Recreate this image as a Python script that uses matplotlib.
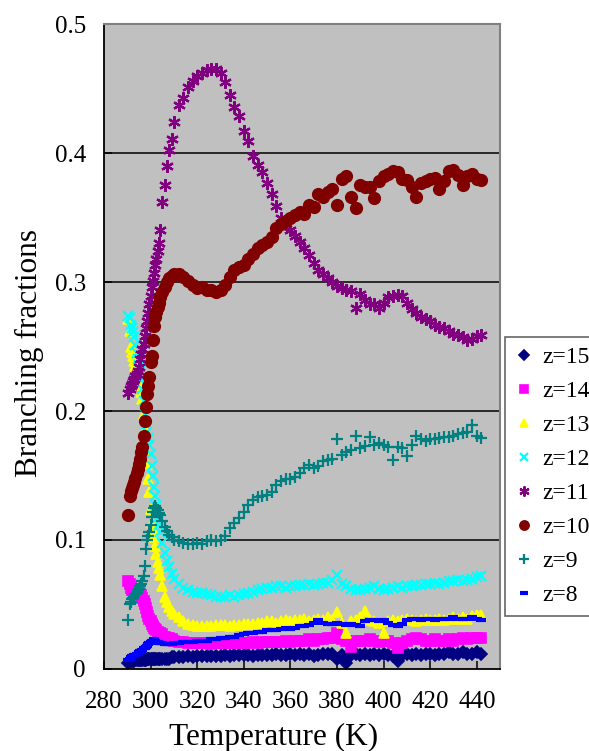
import matplotlib
matplotlib.use('Agg')
import matplotlib.pyplot as plt

# temperatures (K), shared by every series
temps = [290.5, 291.0, 291.5, 292.0, 292.5, 293.0, 293.5, 294.0, 294.5, 295.0,
         295.5, 296.0, 296.5, 297.0, 297.5, 298.0, 298.5, 299.0, 299.5, 300.0,
         300.5, 301.0, 301.5, 302.0, 302.5, 303.0, 303.5, 304.0, 305, 306,
         307, 308, 309, 310, 312, 314, 316, 318, 320, 322,
         324, 326, 328, 330, 332, 334, 336, 338, 340, 342,
         344, 346, 348, 350, 352, 354, 356, 358, 360, 362,
         364, 366, 368, 370, 372, 374, 376, 378, 380, 382,
         384, 386, 388, 390, 392, 394, 396, 398, 400, 402,
         404, 406, 408, 410, 412, 414, 416, 418, 420, 422,
         424, 426, 428, 430, 432, 434, 436, 438, 440, 442]

z15 = [0.005, 0.006, 0.006, 0.006, 0.006, 0.006, 0.007, 0.007, 0.007, 0.007,
       0.007, 0.007, 0.007, 0.007, 0.007, 0.007, 0.008, 0.008, 0.008, 0.008,
       0.008, 0.008, 0.008, 0.008, 0.008, 0.008, 0.008, 0.008, 0.008, 0.008,
       0.008, 0.008, 0.009, 0.009, 0.009, 0.009, 0.010, 0.009, 0.010, 0.010,
       0.010, 0.010, 0.010, 0.010, 0.011, 0.010, 0.011, 0.011, 0.011, 0.011,
       0.010, 0.011, 0.011, 0.011, 0.011, 0.012, 0.011, 0.011, 0.012, 0.011,
       0.012, 0.011, 0.012, 0.010, 0.011, 0.012, 0.012, 0.012, 0.008, 0.011,
       0.005, 0.011, 0.012, 0.011, 0.012, 0.011, 0.012, 0.011, 0.012, 0.011,
       0.010, 0.006, 0.011, 0.012, 0.011, 0.012, 0.011, 0.012, 0.012, 0.011,
       0.012, 0.012, 0.013, 0.012, 0.012, 0.013, 0.012, 0.012, 0.013, 0.012]

z14 = [0.068, 0.066, 0.063, 0.061, 0.061, 0.060, 0.060, 0.060, 0.059, 0.059,
       0.058, 0.057, 0.055, 0.053, 0.050, 0.047, 0.044, 0.041, 0.039, 0.037,
       0.035, 0.033, 0.032, 0.031, 0.030, 0.029, 0.028, 0.028, 0.027, 0.025,
       0.024, 0.024, 0.023, 0.022, 0.021, 0.021, 0.020, 0.020, 0.020, 0.020,
       0.020, 0.019, 0.020, 0.020, 0.020, 0.020, 0.020, 0.020, 0.020, 0.020,
       0.021, 0.020, 0.021, 0.021, 0.021, 0.021, 0.021, 0.022, 0.021, 0.022,
       0.022, 0.022, 0.023, 0.022, 0.023, 0.023, 0.024, 0.024, 0.028, 0.023,
       0.022, 0.017, 0.022, 0.022, 0.022, 0.023, 0.022, 0.021, 0.022, 0.022,
       0.020, 0.016, 0.020, 0.022, 0.023, 0.024, 0.023, 0.022, 0.022, 0.023,
       0.022, 0.022, 0.023, 0.022, 0.023, 0.024, 0.023, 0.024, 0.024, 0.024]

z13 = [0.271, 0.262, 0.250, 0.246, 0.243, 0.239, 0.235, 0.231, 0.227, 0.223,
       0.220, 0.215, 0.209, 0.198, 0.186, 0.170, 0.159, 0.147, 0.137, 0.124,
       0.113, 0.108, 0.102, 0.095, 0.089, 0.083, 0.078, 0.073, 0.064, 0.056,
       0.052, 0.048, 0.045, 0.043, 0.040, 0.037, 0.035, 0.034, 0.033, 0.033,
       0.033, 0.033, 0.034, 0.034, 0.034, 0.033, 0.034, 0.034, 0.035, 0.035,
       0.035, 0.036, 0.036, 0.037, 0.037, 0.036, 0.037, 0.038, 0.037, 0.038,
       0.038, 0.039, 0.037, 0.038, 0.039, 0.038, 0.040, 0.038, 0.044, 0.036,
       0.028, 0.037, 0.038, 0.040, 0.045, 0.038, 0.037, 0.036, 0.028, 0.037,
       0.038, 0.037, 0.038, 0.039, 0.038, 0.037, 0.038, 0.039, 0.038, 0.038,
       0.039, 0.038, 0.039, 0.040, 0.039, 0.040, 0.039, 0.041, 0.042, 0.042]

z12 = [0.274, 0.272, 0.267, 0.264, 0.261, 0.257, 0.251, 0.245, 0.240, 0.236,
       0.231, 0.224, 0.217, 0.208, 0.198, 0.190, 0.184, 0.179, 0.174, 0.167,
       0.157, 0.150, 0.141, 0.134, 0.126, 0.118, 0.112, 0.106, 0.098, 0.090,
       0.084, 0.079, 0.074, 0.070, 0.066, 0.063, 0.061, 0.060, 0.059, 0.059,
       0.058, 0.057, 0.056, 0.056, 0.056, 0.057, 0.056, 0.057, 0.058, 0.059,
       0.060, 0.061, 0.062, 0.063, 0.063, 0.064, 0.064, 0.063, 0.064, 0.064,
       0.065, 0.065, 0.066, 0.065, 0.066, 0.067, 0.067, 0.069, 0.073, 0.066,
       0.064, 0.062, 0.061, 0.061, 0.062, 0.063, 0.064, 0.062, 0.061, 0.062,
       0.063, 0.064, 0.063, 0.064, 0.064, 0.065, 0.065, 0.066, 0.066, 0.067,
       0.066, 0.067, 0.068, 0.068, 0.069, 0.068, 0.069, 0.070, 0.071, 0.072]

z11 = [0.214, 0.217, 0.219, 0.221, 0.223, 0.225, 0.227, 0.229, 0.231, 0.234,
       0.240, 0.244, 0.248, 0.252, 0.258, 0.264, 0.270, 0.276, 0.283, 0.289,
       0.296, 0.301, 0.307, 0.313, 0.318, 0.324, 0.330, 0.340, 0.362, 0.375,
       0.390, 0.402, 0.411, 0.424, 0.437, 0.443, 0.451, 0.456, 0.460, 0.462,
       0.464, 0.465, 0.465, 0.462, 0.455, 0.445, 0.436, 0.429, 0.417, 0.409,
       0.398, 0.391, 0.385, 0.377, 0.368, 0.359, 0.350, 0.345, 0.340, 0.336,
       0.331, 0.326, 0.321, 0.315, 0.309, 0.306, 0.303, 0.300, 0.297, 0.295,
       0.294, 0.293, 0.280, 0.291, 0.286, 0.283, 0.283, 0.280, 0.284, 0.288,
       0.289, 0.290, 0.289, 0.284, 0.279, 0.276, 0.273, 0.271, 0.270, 0.267,
       0.265, 0.264, 0.262, 0.260, 0.259, 0.257, 0.255, 0.256, 0.258, 0.259]

z10 = [0.119, 0.134, 0.138, 0.140, 0.143, 0.145, 0.148, 0.152, 0.155, 0.159,
       0.163, 0.168, 0.172, 0.181, 0.192, 0.203, 0.213, 0.219, 0.226, 0.238,
       0.243, 0.255, 0.266, 0.273, 0.277, 0.281, 0.284, 0.288, 0.292, 0.296,
       0.300, 0.303, 0.305, 0.306, 0.306, 0.304, 0.301, 0.298, 0.295, 0.296,
       0.294, 0.294, 0.292, 0.294, 0.298, 0.304, 0.309, 0.312, 0.313, 0.318,
       0.322, 0.326, 0.329, 0.331, 0.335, 0.342, 0.345, 0.347, 0.350, 0.352,
       0.354, 0.353, 0.360, 0.358, 0.368, 0.366, 0.370, 0.372, 0.360, 0.380,
       0.382, 0.366, 0.357, 0.375, 0.374, 0.374, 0.365, 0.378, 0.382, 0.384,
       0.386, 0.385, 0.380, 0.379, 0.374, 0.366, 0.377, 0.378, 0.380, 0.381,
       0.372, 0.378, 0.386, 0.387, 0.383, 0.375, 0.382, 0.384, 0.380, 0.379]

z9 = [0.038, 0.050, 0.052, 0.054, 0.055, 0.056, 0.058, 0.059, 0.061, 0.062,
      0.064, 0.066, 0.068, 0.072, 0.080, 0.093, 0.100, 0.103, 0.106, 0.112,
      0.118, 0.122, 0.125, 0.126, 0.125, 0.123, 0.121, 0.119, 0.115, 0.110,
      0.107, 0.104, 0.102, 0.100, 0.099, 0.098, 0.097, 0.097, 0.098, 0.097,
      0.099, 0.100, 0.099, 0.100, 0.103, 0.109, 0.113, 0.117, 0.122, 0.127,
      0.131, 0.133, 0.134, 0.135, 0.137, 0.143, 0.146, 0.147, 0.147, 0.149,
      0.152, 0.156, 0.158, 0.156, 0.157, 0.161, 0.162, 0.163, 0.178, 0.166,
      0.168, 0.170, 0.181, 0.171, 0.173, 0.180, 0.174, 0.175, 0.174, 0.172,
      0.162, 0.172, 0.171, 0.165, 0.174, 0.181, 0.178, 0.177, 0.178, 0.178,
      0.179, 0.180, 0.180, 0.181, 0.182, 0.183, 0.184, 0.189, 0.181, 0.179]

z8 = [0.007, 0.008, 0.009, 0.010, 0.010, 0.011, 0.011, 0.012, 0.012, 0.013,
      0.014, 0.014, 0.015, 0.016, 0.016, 0.017, 0.018, 0.019, 0.020, 0.021,
      0.022, 0.022, 0.023, 0.022, 0.021, 0.021, 0.020, 0.020, 0.020, 0.019,
      0.019, 0.019, 0.019, 0.020, 0.020, 0.021, 0.021, 0.021, 0.022, 0.022,
      0.022, 0.023, 0.023, 0.024, 0.024, 0.025, 0.025, 0.026, 0.027, 0.028,
      0.028, 0.029, 0.029, 0.030, 0.030, 0.030, 0.031, 0.032, 0.031, 0.032,
      0.033, 0.033, 0.034, 0.036, 0.038, 0.036, 0.035, 0.035, 0.036, 0.035,
      0.034, 0.035, 0.034, 0.033, 0.037, 0.038, 0.038, 0.037, 0.038, 0.036,
      0.034, 0.033, 0.035, 0.038, 0.039, 0.039, 0.038, 0.039, 0.039, 0.038,
      0.039, 0.039, 0.039, 0.040, 0.039, 0.039, 0.039, 0.040, 0.039, 0.038]

x_ticks = [280, 300, 320, 340, 360, 380, 400, 420, 440]
y_ticks = [0, 0.1, 0.2, 0.3, 0.4, 0.5]
y_tick_labels = ['0', '0.1', '0.2', '0.3', '0.4', '0.5']
grid_levels = [0.1, 0.2, 0.3, 0.4]


def main():
    plt.rcParams['font.family'] = ['Liberation Serif', 'DejaVu Serif']

    fig = plt.figure(figsize=(5.89, 7.51), dpi=100)
    ax = fig.add_axes([0.1766, 0.1092, 0.6724, 0.8588])
    ax.set_facecolor('#C0C0C0')

    # horizontal grid lines (black, excel style)
    for g in grid_levels:
        ax.axhline(g, color='black', lw=1.1, zorder=0.5)

    # series: label, values, color, marker, size, edge width
    series = [
        ('z=15', z15, '#000080', 'D', 6.0, 1.2),
        ('z=14', z14, '#FF00FF', 's', 7.0, 1.2),
        ('z=13', z13, '#FFFF00', '^', 7.5, 1.2),
        ('z=12', z12, '#00FFFF', 'x', 7.5, 1.6),
        ('z=11', z11, '#800080', (6, 2, 0), 9.0, 1.6),
        ('z=10', z10, '#800000', 'o', 8.5, 1.0),
        ('z=9', z9, '#008080', '+', 8.5, 1.6),
        ('z=8', z8, '#0000FF', '_', 6.5, 3.0),
    ]
    for label, vals, col, mk, ms, mew in series:
        ax.plot(temps, vals, linestyle='none', marker=mk, markersize=ms,
                color=col, markeredgecolor=col, markeredgewidth=mew,
                label=label, zorder=2)

    ax.set_xlim(280, 450)
    ax.set_ylim(0, 0.5)
    ax.set_xticks(x_ticks)
    ax.set_xticklabels([str(t) for t in x_ticks])
    ax.set_yticks(y_ticks)
    ax.set_yticklabels(y_tick_labels)
    ax.tick_params(axis='x', direction='in', length=6, width=1.1,
                   labelsize=18, pad=16)
    ax.tick_params(axis='y', direction='in', length=6, width=1.1,
                   labelsize=18, pad=13)

    for side in ['left', 'bottom']:
        ax.spines[side].set_color('black')
        ax.spines[side].set_linewidth(1.3)
    for side in ['top', 'right']:
        ax.spines[side].set_color('#808080')
        ax.spines[side].set_linewidth(1.5)

    # axis labels
    ax.set_xlabel('Temperature (K)', fontsize=22.5)
    ax.xaxis.set_label_coords(0.427, -0.083)
    ax.set_ylabel('Branching fractions', fontsize=22.5)
    ax.yaxis.set_label_coords(-0.152, 0.49)

    # legend at the right side
    leg = fig.legend(loc='upper left', bbox_to_anchor=(505 / 589, 1 - 337 / 751),
                     fontsize=17, frameon=True, fancybox=False,
                     labelspacing=0.53, handlelength=0.8, handletextpad=0.4,
                     borderpad=0.4, borderaxespad=0, markerscale=0.8)
    leg.get_frame().set_edgecolor('#404040')
    leg.get_frame().set_linewidth(1.2)

    fig.savefig('out.png', dpi=100)


main()
